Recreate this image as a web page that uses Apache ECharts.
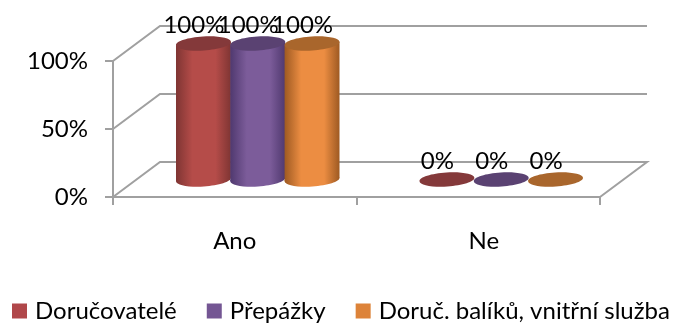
<!DOCTYPE html>
<html>
<head>
<meta charset="utf-8">
<style>html,body{margin:0;padding:0;background:#fff}#chart{width:676px;height:324px}</style>
<script src="https://cdn.jsdelivr.net/npm/echarts@6/dist/echarts.min.js"></script>
</head>
<body>
<div id="chart"></div>
<script>
const categories = ['Ano', 'Ne'];
const valueTicks = [0, 50, 100];
const doructovatele = [100, 0];
const prepazky = [100, 0];
const baliky = [100, 0];
const seriesNames = ['Doručovatelé', 'Přepážky', 'Doruč. balíků, vnitřní služba'];
const seriesValues = [doructovatele, prepazky, baliky];
const bodyColors = ['#b54c49', '#7c5c9a', '#ec8d42'];
const edgeColors = ['#7f3533', '#50396f', '#9e5a22'];
const capColors = ['#84393a', '#5a4272', '#a9662c'];
const legendColors = ['#b0474a', '#745693', '#dd8339'];

const FONT = 'Lato, "Open Sans", sans-serif';
const FONT_SIZE = 24;
const GRID_LINE = '#a0a0a0';
const DEPTH_X = 47, DEPTH_Y = -35;
const COL_SHIFT_X = 23, COL_SHIFT_Y = -17.5;
const COL_STEP = 54.3, COL_RX = 27.5, COL_RY = 7, COL_TILT = 0.06;

const chart = echarts.init(document.getElementById('chart'), null, {renderer: 'canvas'});

// Back wall, floor edge and slanted side lines of the 3D box.
function renderWalls(params, api) {
  const children = [];
  const band = api.size([1, 0])[0];
  valueTicks.forEach(function (t) {
    const a = api.coord([0, t]);
    const left = a[0] - band / 2;
    const right = left + band * categories.length;
    children.push({
      type: 'polyline',
      shape: {points: [[left, a[1]], [left + DEPTH_X, a[1] + DEPTH_Y], [right + DEPTH_X, a[1] + DEPTH_Y]].concat(t === 0 ? [[right, a[1]]] : [])},
      style: {stroke: GRID_LINE, lineWidth: 2, fill: null}
    });
  });
  return {type: 'group', children: children};
}

// One cylinder: lower cap, shaded side, darker top cap and the value above it.
function cylinder(si) {
  return function (params, api) {
    const top = api.coord([api.value(0), api.value(1)]);
    const base = api.coord([api.value(0), 0]);
    const cx = top[0] + COL_SHIFT_X + (si - 1) * COL_STEP;
    const ty = top[1] + COL_SHIFT_Y;
    const by = base[1] + COL_SHIFT_Y;
    const dx = COL_RX * Math.cos(COL_TILT), dy = COL_RX * Math.sin(COL_TILT);
    const side = new echarts.graphic.LinearGradient(0, 0, 1, 0, [
      {offset: 0, color: edgeColors[si]},
      {offset: 0.3, color: bodyColors[si]},
      {offset: 0.72, color: bodyColors[si]},
      {offset: 1, color: edgeColors[si]}
    ]);
    const children = [];
    if (by - ty > 1) {
      children.push({
        type: 'ellipse', originX: cx, originY: by, rotation: COL_TILT,
        shape: {cx: cx, cy: by, rx: COL_RX, ry: COL_RY}, style: {fill: side}
      });
      children.push({
        type: 'polygon',
        shape: {points: [[cx - dx, ty + dy], [cx + dx, ty - dy], [cx + dx, by - dy], [cx - dx, by + dy]]},
        style: {fill: side}
      });
    }
    children.push({
      type: 'ellipse', originX: cx, originY: ty, rotation: COL_TILT,
      shape: {cx: cx, cy: ty, rx: COL_RX, ry: COL_RY}, style: {fill: capColors[si]}
    });
    children.push({
      type: 'text',
      style: {
        text: api.value(1) + '%', x: cx - 9.5, y: ty - 18.5,
        align: 'center', verticalAlign: 'middle',
        font: FONT_SIZE + 'px ' + FONT, fill: '#000'
      }
    });
    return {type: 'group', children: children};
  };
}

const series = [{
  type: 'custom',
  name: 'walls',
  silent: true,
  z: 1,
  renderItem: renderWalls,
  data: [[0, 0]],
  clip: false,
  encode: {x: 0, y: 1}
}];
seriesNames.forEach(function (name, si) {
  series.push({
    type: 'custom',
    name: name,
    z: 2,
    clip: false,
    itemStyle: {color: legendColors[si]},
    renderItem: cylinder(si),
    data: seriesValues[si].map(function (v, i) { return [i, v]; }),
    encode: {x: 0, y: 1}
  });
});

chart.setOption({
  animation: false,
  backgroundColor: '#fff',
  grid: {left: 113, right: 76, top: 61, bottom: 127},
  legend: {
    data: seriesNames, left: 12, top: 299, icon: 'rect', padding: 0,
    itemWidth: 15, itemHeight: 15, itemGap: 30,
    textStyle: {fontFamily: FONT, fontSize: FONT_SIZE, color: '#000', padding: [0, 0, 0, 3]}
  },
  xAxis: {
    type: 'category',
    data: [categories[0], {value: categories[1], textStyle: {padding: [0, 0, 0, 11]}}],
    boundaryGap: true,
    axisLine: {lineStyle: {color: GRID_LINE, width: 2}},
    axisTick: {show: true, length: 8, lineStyle: {color: GRID_LINE, width: 2}},
    axisLabel: {color: '#000', fontFamily: FONT, fontSize: FONT_SIZE, margin: 32},
    splitLine: {show: false}
  },
  yAxis: {
    type: 'value', min: 0, max: 100, interval: 50,
    axisLine: {show: true, lineStyle: {color: GRID_LINE, width: 2}},
    axisTick: {show: true, length: 8, lineStyle: {color: GRID_LINE, width: 2}},
    axisLabel: {color: '#000', fontFamily: FONT, fontSize: FONT_SIZE, margin: 25, padding: [3, 0, 0, 0], formatter: '{value}%'},
    splitLine: {show: false}
  },
  series: series
});
</script>
</body>
</html>
